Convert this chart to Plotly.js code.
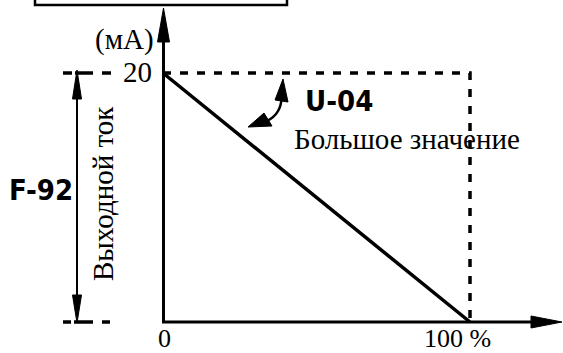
<!DOCTYPE html>
<html>
<head>
<meta charset="utf-8">
<script src="https://cdn.plot.ly/plotly-3.0.1.min.js"></script>
<style>html,body{margin:0;padding:0;background:#fff;}#chart{width:563px;height:353px;}</style>
</head>
<body>
<div id="chart"></div>
<script>
// ---- data ----
const percentValues = [0, 100];          // x: input, %
const currentValues = [20, 0];           // y: output current, mA
const xTickLabels = ['0', '100 %'];
const yTickValues = [20];
const yTickLabels = ['20'];
const yUnit = '(мА)';
const yLabel = 'Выходной ток';
const paramOut = 'F-92';
const paramSlope = 'U-04';
const slopeNote = 'Большое значение';

// ---- pixel helpers (layout only) ----
const PX0 = 163, PXS = 3.07, PY0 = 322, PYS = 12.45;
const X = p => (p - PX0) / PXS;
const Y = q => (PY0 - q) / PYS;
const P = (a, b) => X(a) + ',' + Y(b);

const black = '#000';
const serif = 'Liberation Serif, Times New Roman, serif';
const FS = 29;

const traces = [
  { // dashed limit lines
    x: [percentValues[0], percentValues[1], percentValues[1]],
    y: [currentValues[0], currentValues[0], currentValues[1]],
    mode: 'lines', line: {color: black, width: 3.5, dash: '8px,9px'}, hoverinfo: 'skip'
  },
  { // output characteristic
    x: percentValues, y: currentValues,
    mode: 'lines', line: {color: black, width: 3.5}, hoverinfo: 'skip'
  }
];

const ln = (x0, y0, x1, y1, w) => ({type: 'line', xref: 'x', yref: 'y', x0: X(x0), y0: Y(y0), x1: X(x1), y1: Y(y1), line: {color: black, width: w}});
const tri = (a, b, c) => ({type: 'path', xref: 'x', yref: 'y', path: 'M' + P(a[0], a[1]) + ' L' + P(b[0], b[1]) + ' L' + P(c[0], c[1]) + ' Z', fillcolor: black, line: {color: black, width: 1}});

const shapes = [
  {type: 'rect', xref: 'x', yref: 'y', x0: X(35), x1: X(287), y0: Y(-10), y1: Y(5), line: {color: black, width: 2.5}},
  // y axis
  ln(163.5, 323, 163.5, 35, 3),
  tri([163.5, 8], [157.5, 42], [169.5, 42]),
  // x axis
  ln(162, 322, 535, 322, 3),
  tri([562, 322], [531, 316], [531, 328]),
  // left double arrow
  ln(77, 90, 77, 305, 2),
  tri([77, 70], [72.5, 99], [81.5, 99]),
  tri([77, 323], [72.5, 295], [81.5, 295]),
  // short dashes left
  ln(63, 73, 72, 73, 3.5), ln(75, 73, 93, 73, 3.5), ln(102, 73, 111, 73, 3.5),
  ln(63, 322, 71, 322, 3.5), ln(74, 322, 93, 322, 3.5), ln(102, 322, 110, 322, 3.5),
  // curved double arrow
  {type: 'path', xref: 'x', yref: 'y', path: 'M' + P(281.5, 98) + ' Q' + P(281, 114) + ' ' + P(267, 121), line: {color: black, width: 2.5}},
  tri([283, 79], [275, 100], [288, 102]),
  tri([248, 127], [264, 113], [272, 126])
];

const ann = (o) => Object.assign({showarrow: false, xref: 'x', yref: 'y', font: {family: serif, size: FS, color: black}}, o);
const boldFont = {family: 'DejaVu Sans Condensed, DejaVu Sans', size: 29, color: black};
const tickFont = {family: serif, size: 26, color: black};
const annotations = [
  ann({text: yUnit, x: X(156), y: Y(39), xanchor: 'right', yanchor: 'middle'}),
  ann({text: yTickLabels[0], x: 0, xshift: -9, y: yTickValues[0], yshift: 1, xanchor: 'right', yanchor: 'middle'}),
  ann({text: xTickLabels[0], x: percentValues[0], xshift: 1, y: 0, yshift: -16, xanchor: 'center', yanchor: 'middle', font: tickFont}),
  ann({text: xTickLabels[1], x: percentValues[1], xshift: -13, y: 0, yshift: -16, xanchor: 'center', yanchor: 'middle', font: tickFont}),
  ann({text: yLabel, x: X(103), y: Y(194), textangle: -90, xanchor: 'center', yanchor: 'middle'}),
  ann({text: slopeNote, x: X(292), y: Y(139), xanchor: 'left', yanchor: 'middle'}),
  ann({text: '<b>' + paramOut + '</b>', x: X(41), y: Y(190), xanchor: 'center', yanchor: 'middle', font: boldFont}),
  ann({text: '<b>' + paramSlope + '</b>', x: X(339), y: Y(101), xanchor: 'center', yanchor: 'middle', font: boldFont})
];

const layout = {
  width: 563, height: 353,
  margin: {l: 0, r: 0, t: 0, b: 0},
  paper_bgcolor: '#fff', plot_bgcolor: '#fff',
  showlegend: false,
  xaxis: {range: [X(0), X(563)], visible: false, fixedrange: true},
  yaxis: {range: [Y(353), Y(0)], visible: false, fixedrange: true},
  shapes: shapes,
  annotations: annotations
};

Plotly.newPlot('chart', traces, layout, {staticPlot: true, displayModeBar: false});
</script>
</body>
</html>
